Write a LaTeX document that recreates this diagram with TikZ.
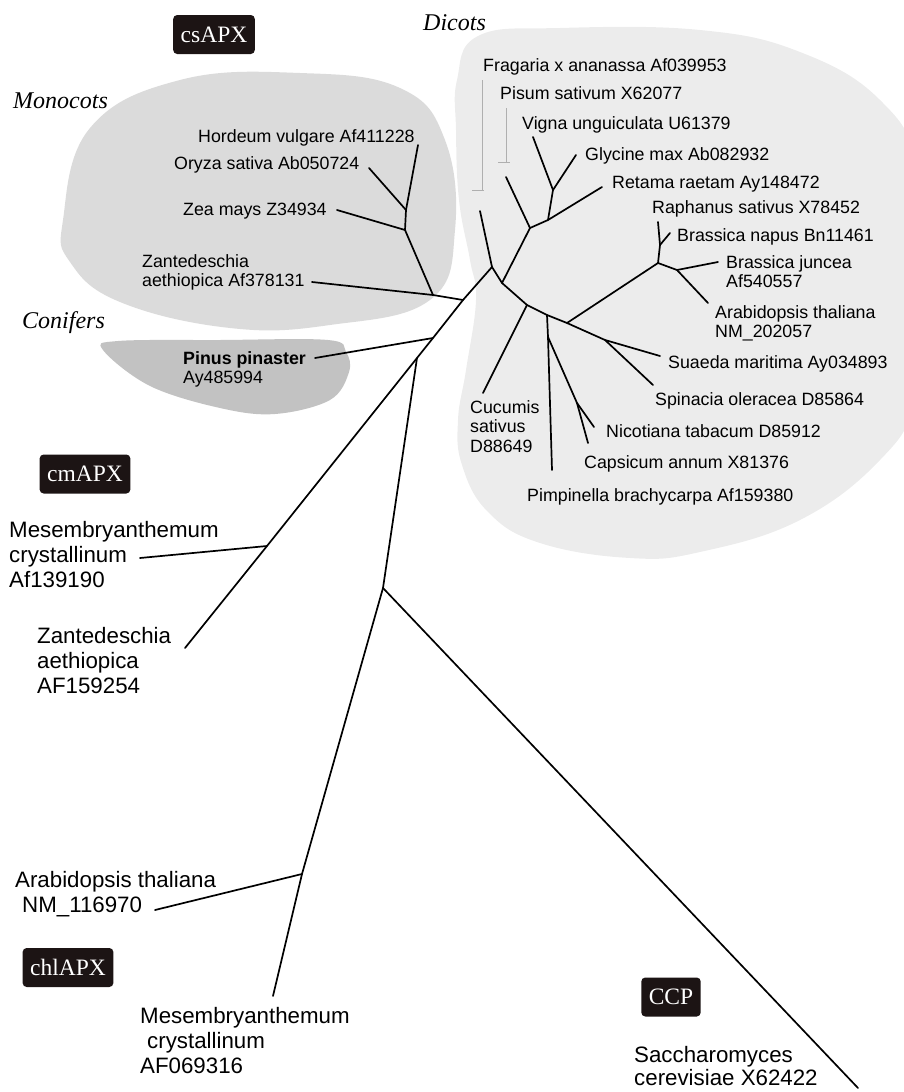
\documentclass[tikz,border=0pt]{standalone}
\usepackage{fontspec}
\setmainfont{Liberation Serif}
\setsansfont{Liberation Sans}

\definecolor{dicotgray}{RGB}{236,236,236}
\definecolor{monocotgray}{RGB}{219,219,219}
\definecolor{conifergray}{RGB}{194,194,194}
\definecolor{boxblack}{RGB}{28,20,20}
\definecolor{tickgray}{RGB}{175,175,175}

\begin{document}
\begin{tikzpicture}[x=1pt, y=-1pt,
  branch/.style = {line width=1.7pt, line cap=round, line join=round},
  taxon/.style = {inner sep=0pt, anchor=base west,
    font=\sffamily\fontsize{17.8}{19.5}\selectfont},
  taxonlines/.style = {taxon, anchor=north west, align=left},
  bigtaxon/.style = {inner sep=0pt, anchor=north west, align=left,
    font=\sffamily\fontsize{22.3}{25}\selectfont},
  clade/.style = {inner sep=0pt, anchor=base west,
    font=\itshape\fontsize{24}{28}\selectfont},
  family/.style = {rounded corners=4pt, fill=boxblack, text=white,
    inner xsep=7.5pt, minimum height=39pt,
    font=\fontsize{23.5}{26}\selectfont},
  tick/.style = {tickgray, line width=0.8pt}]

  \clip (0,0) rectangle (904,1092);

  % shaded groups
  \fill[dicotgray] plot[smooth cycle, tension=0.7] coordinates {
    (457,80) (478,36) (560,28) (700,30) (800,52) (880,100) (918,170)
    (922,300) (915,400) (880,460) (800,520) (700,552) (630,558)
    (540,543) (488,512) (462,465) (458,420) (466,370) (476,300)
    (470,260) (459,200) (456,130)};
  \fill[monocotgray] plot[smooth cycle, tension=0.7] coordinates {
    (63,220) (90,128) (180,80) (300,73) (400,88) (445,140) (455,230)
    (430,300) (330,325) (230,328) (120,302) (70,262)};
  \fill[conifergray] plot[smooth cycle, tension=0.6] coordinates {
    (103,350) (118,341) (220,340) (328,340) (346,352) (349,372)
    (330,400) (275,414) (220,408) (150,386)};

  \draw[tick] (482,80) -- (482,190) (472,190) -- (484,190);
  \draw[tick] (506,108) -- (506,162) (498,162) -- (510,162);

  % junctions
  \coordinate (j0) at (492,267);
  \coordinate (j1) at (502,283);
  \coordinate (j2) at (530,228);
  \coordinate (j3) at (548,220);
  \coordinate (j4) at (553,190);
  \coordinate (jc) at (527,305);
  \coordinate (jp) at (547,315);
  \coordinate (jn1) at (548,337);
  \coordinate (jn2) at (577,403);
  \coordinate (jb) at (567,323);
  \coordinate (b1) at (658,263);
  \coordinate (b2) at (660,245);
  \coordinate (b3) at (677,270);
  \coordinate (js) at (605,340);
  \coordinate (m0) at (463,300);
  \coordinate (m1) at (433,295);
  \coordinate (m2) at (405,230);
  \coordinate (m3) at (406,210);
  \coordinate (pj) at (433,338);
  \coordinate (cj) at (417,358);
  \coordinate (cm1) at (267,546);
  \coordinate (k1) at (383,588);
  \coordinate (k2) at (302,874);
  % leaves
  \coordinate (fra) at (480,211);
  \coordinate (pis) at (506,177);
  \coordinate (vig) at (533,137);
  \coordinate (gly) at (576,155);
  \coordinate (ret) at (602,187);
  \coordinate (rap) at (658,222);
  \coordinate (nap) at (670,233);
  \coordinate (jun) at (718,262);
  \coordinate (ara) at (708,303);
  \coordinate (sua) at (660,356);
  \coordinate (spi) at (653,385);
  \coordinate (nic) at (594,427);
  \coordinate (cap) at (588,443);
  \coordinate (pim) at (552,470);
  \coordinate (cuc) at (483,393);
  \coordinate (hor) at (418,145);
  \coordinate (ory) at (369,168);
  \coordinate (zea) at (337,210);
  \coordinate (zan) at (312,282);
  \coordinate (pin) at (315,358);
  \coordinate (mes) at (140,558);
  \coordinate (zae) at (185,648);
  \coordinate (ara2) at (155,910);
  \coordinate (mes2) at (273,996);
  \coordinate (sac) at (858,1088);

  % tree
  \draw[branch] (fra) -- (j0) -- (j1) -- (jc) -- (jp) -- (jb) -- (js) -- (sua);
  \draw[branch] (js) -- (spi);
  \draw[branch] (j1) -- (j2) -- (pis);
  \draw[branch] (j2) -- (j3) -- (ret);
  \draw[branch] (j3) -- (j4) -- (vig);
  \draw[branch] (j4) -- (gly);
  \draw[branch] (jc) -- (cuc);
  \draw[branch] (jp) -- (jn1) -- (pim);
  \draw[branch] (jn1) -- (jn2) -- (nic);
  \draw[branch] (jn2) -- (cap);
  \draw[branch] (jb) -- (b1) -- (b2) -- (rap);
  \draw[branch] (b2) -- (nap);
  \draw[branch] (b1) -- (b3) -- (jun);
  \draw[branch] (b3) -- (ara);
  \draw[branch] (j0) -- (m0) -- (pj) -- (cj) -- (cm1) -- (zae);
  \draw[branch] (m0) -- (m1) -- (zan);
  \draw[branch] (m1) -- (m2) -- (zea);
  \draw[branch] (m2) -- (m3) -- (ory);
  \draw[branch] (m3) -- (hor);
  \draw[branch] (pj) -- (pin);
  \draw[branch] (cm1) -- (mes);
  \draw[branch] (cj) -- (k1) -- (k2) -- (mes2);
  \draw[branch] (k2) -- (ara2);
  \draw[branch] (k1) -- (sac);

  % group names
  \node[family] (csapx) at (214,34.5) {csAPX};
  \node[family] (cmapx) at (85,474) {cmAPX};
  \node[family] (chlapx) at (68,967.5) {chlAPX};
  \node[family] (ccpbox) at (671,997) {CCP};
  \node[clade] (dicots) at (423,30) {Dicots};
  \node[clade] (monocots) at (13,108) {Monocots};
  \node[clade] (conifers) at (22,328) {Conifers};

  % dicots
  \node[taxon] (tfra) at (483,71) {Fragaria x ananassa Af039953};
  \node[taxon] (tpis) at (500,99) {Pisum sativum X62077};
  \node[taxon] (tvig) at (522,129) {Vigna unguiculata U61379};
  \node[taxon] (tgly) at (585,160) {Glycine max Ab082932};
  \node[taxon] (tret) at (612,188) {Retama raetam Ay148472};
  \node[taxon] (trap) at (652,213) {Raphanus sativus X78452};
  \node[taxon] (tnap) at (677,241) {Brassica napus Bn11461};
  \node[taxonlines] (tjun) at (726,255.2) {Brassica juncea\\Af540557};
  \node[taxonlines] (tara) at (715,305.2) {Arabidopsis thaliana\\NM\_202057};
  \node[taxon] (tsua) at (668,368) {Suaeda maritima Ay034893};
  \node[taxon] (tspi) at (655,405) {Spinacia oleracea D85864};
  \node[taxon] (tnic) at (606,437) {Nicotiana tabacum D85912};
  \node[taxon] (tcap) at (584,468) {Capsicum annum X81376};
  \node[taxon] (tpim) at (527,501) {Pimpinella brachycarpa Af159380};
  \node[taxonlines] (tcuc) at (470,400.2) {Cucumis\\sativus\\D88649};

  % monocots, conifers
  \node[taxon] (thor) at (198,142) {Hordeum vulgare Af411228};
  \node[taxon] (tory) at (174,169) {Oryza sativa Ab050724};
  \node[taxon] (tzea) at (183,215) {Zea mays Z34934};
  \node[taxonlines] (tzan) at (142,254.2) {Zantedeschia\\aethiopica Af378131};
  \node[taxonlines] (tpin) at (183,351.2) {\textbf{Pinus pinaster}\\Ay485994};

  % other groups
  \node[bigtaxon] (tmes) at (9,521) {Mesembryanthemum\\crystallinum\\Af139190};
  \node[bigtaxon] (tzae) at (37,627) {Zantedeschia\\aethiopica\\AF159254};
  \node[bigtaxon] (tara2) at (15,871) {Arabidopsis thaliana\\\hspace*{7pt}NM\_116970};
  \node[bigtaxon] (tmes2) at (140,1007) {Mesembryanthemum\\\hspace*{7pt}crystallinum\\AF069316};
  \node[bigtaxon, font=\sffamily\fontsize{22.3}{23}\selectfont] (tsac) at (634,1046) {Saccharomyces\\cerevisiae X62422};
\end{tikzpicture}
\end{document}
